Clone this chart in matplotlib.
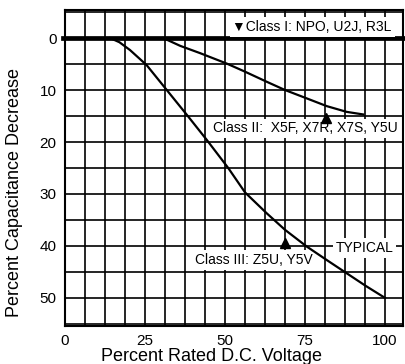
import numpy as np
import matplotlib
matplotlib.use("Agg")
import matplotlib.pyplot as plt

plt.rcParams["font.family"] = ["Liberation Sans", "DejaVu Sans"]

# Class II curve (X5F, X7R, X7S, Y5U)
class2_v = [30.7, 36, 42.2, 50.5, 56, 63, 68.75, 75.5, 81.8, 88, 93.2]
class2_d = [0, 1.5, 2.9, 4.9, 6.4, 8.4, 10, 11.6, 13.1, 14.2, 14.7]

# Class III curve (Z5U, Y5V)
class3_v = [14.1, 17, 20.3, 25.5, 31.8, 38.5, 44.3, 51, 56.25, 63, 68.75,
            75.5, 82, 88, 94, 100]
class3_d = [0, 0.8, 2.3, 5.2, 10, 15.1, 19.6, 25, 29.7, 33.7, 36.9,
            40.1, 42.8, 45.25, 47.7, 50]

# Class I stays flat
class1_v = [-0.7, 105.6]
class1_d = [0, 0]

x_ticks = [0, 25, 50, 75, 100]
y_ticks = [0, 10, 20, 30, 40, 50]

fig = plt.figure(figsize=(4.05, 3.64), dpi=100)
ax = fig.add_axes([65 / 405, 38 / 364, 338 / 405, 316 / 364])

ax.set_xlim(0, 105.6)
ax.set_ylim(55.4, -5.4)

for gx in np.arange(6.25, 105.6, 6.25):
    ax.axvline(gx, color="black", linewidth=1.2, zorder=1)
for gy in np.arange(-5, 55.4, 5):
    ax.axhline(gy, color="black", linewidth=1.2, zorder=1)

ax.plot(class1_v, class1_d, color="black", linewidth=3.4, zorder=3,
        clip_on=False)
ax.plot(class2_v, class2_d, color="black", linewidth=1.6, zorder=4)
ax.plot(class3_v, class3_d, color="black", linewidth=1.6, zorder=4)

box = dict(boxstyle="square,pad=0.2", facecolor="white", edgecolor="none")
ax.text(52.3, -2.1, "\u25bcClass I: NPO, U2J, R3L", fontsize=10,
        ha="left", va="center", bbox=box, zorder=5)
ax.text(46.2, 17.4, "Class II:  X5F, X7R, X7S, Y5U", fontsize=10,
        ha="left", va="center", bbox=box, zorder=2)
ax.text(40.6, 42.7, "Class III: Z5U, Y5V", fontsize=10,
        ha="left", va="center", bbox=box, zorder=2)
ax.text(84.6, 40.4, "TYPICAL", fontsize=10,
        ha="left", va="center", bbox=box, zorder=2)

# pointer triangles
ax.plot([81.6], [15.3], marker="^", color="black", markersize=7, zorder=6)
ax.plot([68.75], [39.4], marker="^", color="black", markersize=7, zorder=6)

ax.set_xticks(x_ticks)
ax.set_yticks(y_ticks)
ax.tick_params(length=0, labelsize=11, pad=6)
ax.set_xlabel("Percent Rated D.C. Voltage", fontsize=13, labelpad=-1)
ax.xaxis.set_label_coords(0.432, -0.07)
ax.set_ylabel("Percent Capacitance Decrease", fontsize=13)
ax.yaxis.set_label_coords(-0.125, 0.424)

for s in ax.spines.values():
    s.set_linewidth(1.5)

fig.savefig("out.png", dpi=100)
